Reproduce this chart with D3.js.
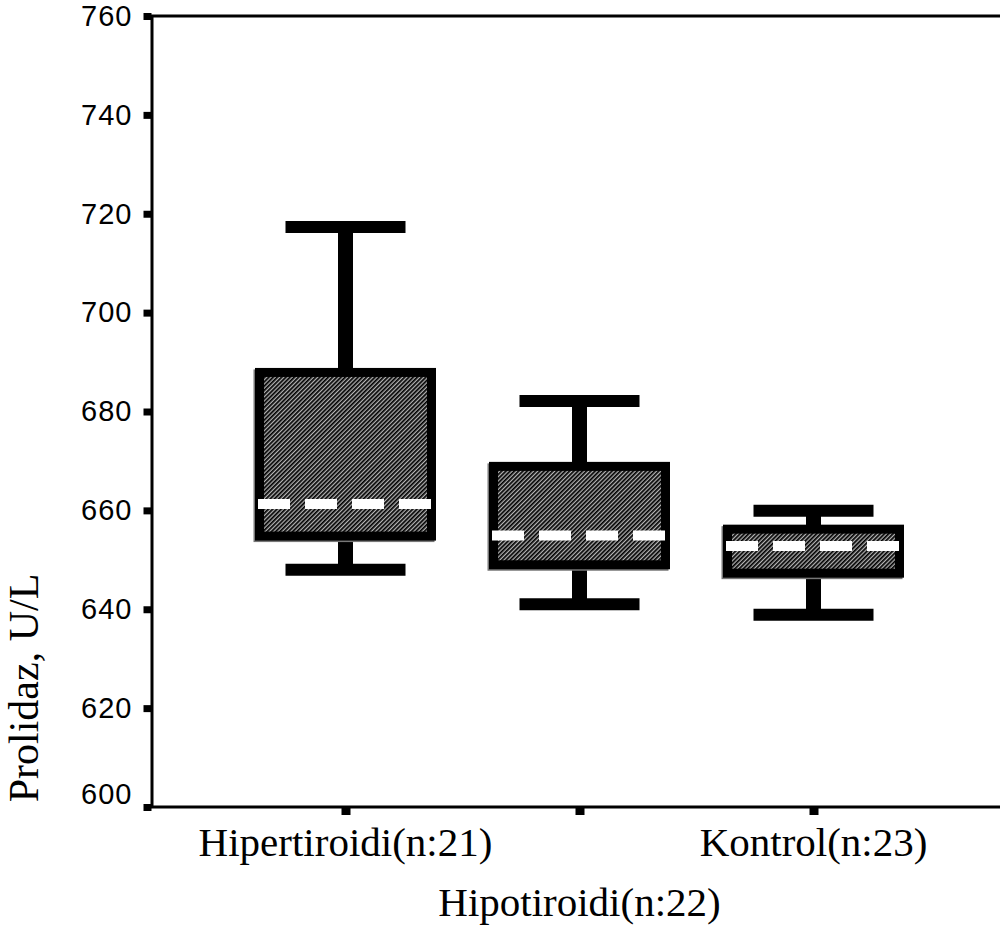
<!DOCTYPE html>
<html>
<head>
<meta charset="utf-8">
<script src="https://cdn.jsdelivr.net/npm/d3@7"></script>
<style>
  body { margin: 0; background: #fff; }
  svg { display: block; }
</style>
</head>
<body>
<div id="chart"></div>
<script>
// values (U/L)
var categories = ["Hipertiroidi(n:21)", "Hipotiroidi(n:22)", "Kontrol(n:23)"];
var whiskerLow = [648, 641, 638.9];
var q1 = [654.8, 649, 647.3];
var median = [661.3, 654.9, 652.8];
var q3 = [687.9, 668.9, 656.2];
var whiskerHigh = [717.3, 682.1, 659.9];
var yTicks = [600, 620, 640, 660, 680, 700, 720, 740, 760];

var width = 1000, height = 928;

var svg = d3.select("#chart").append("svg")
    .attr("width", width)
    .attr("height", height);

var y = d3.scaleLinear().domain([600, 760]).range([807, 16]);
var x = d3.scalePoint().domain(categories).range([345.5, 813.5]);

// hatched fill for the boxes
var pat = svg.append("defs").append("pattern")
    .attr("id", "hatch")
    .attr("patternUnits", "userSpaceOnUse")
    .attr("width", 3)
    .attr("height", 3)
    .attr("patternTransform", "rotate(45)");
pat.append("rect").attr("width", 3).attr("height", 3).attr("fill", "#b4b4b4");
pat.append("rect").attr("width", 1.7).attr("height", 3).attr("fill", "#000");

var boxW = 172, capW = 120;

var data = categories.map(function(c, i) {
    return { cat: c, lo: whiskerLow[i], q1: q1[i], med: median[i], q3: q3[i], hi: whiskerHigh[i] };
});

var g = svg.selectAll(".box").data(data).enter().append("g").attr("class", "box");

// whisker stems
g.append("line")
    .attr("x1", function(d) { return x(d.cat); })
    .attr("x2", function(d) { return x(d.cat); })
    .attr("y1", function(d) { return y(d.hi); })
    .attr("y2", function(d) { return y(d.lo); })
    .attr("stroke", "#000")
    .attr("stroke-width", 15);

// caps
g.selectAll(".cap").data(function(d) { return [{ c: d.cat, v: d.hi }, { c: d.cat, v: d.lo }]; })
    .enter().append("line")
    .attr("class", "cap")
    .attr("x1", function(d) { return x(d.c) - capW / 2; })
    .attr("x2", function(d) { return x(d.c) + capW / 2; })
    .attr("y1", function(d) { return y(d.v); })
    .attr("y2", function(d) { return y(d.v); })
    .attr("stroke", "#000")
    .attr("stroke-width", 12);

// faint shadow behind box
g.append("rect")
    .attr("x", function(d) { return x(d.cat) - boxW / 2 - 1.5; })
    .attr("y", function(d) { return y(d.q3) + 1.5; })
    .attr("width", boxW)
    .attr("height", function(d) { return y(d.q1) - y(d.q3); })
    .attr("fill", "none")
    .attr("stroke", "#777")
    .attr("stroke-width", 9);

// box
g.append("rect")
    .attr("x", function(d) { return x(d.cat) - boxW / 2; })
    .attr("y", function(d) { return y(d.q3); })
    .attr("width", boxW)
    .attr("height", function(d) { return y(d.q1) - y(d.q3); })
    .attr("fill", "url(#hatch)")
    .attr("stroke", "#000")
    .attr("stroke-width", 9);

// dashed median
g.append("line")
    .attr("x1", function(d) { return x(d.cat) - 87.5; })
    .attr("x2", function(d) { return x(d.cat) + 87.5; })
    .attr("y1", function(d) { return y(d.med); })
    .attr("y2", function(d) { return y(d.med); })
    .attr("stroke", "#fff")
    .attr("stroke-width", 10)
    .attr("stroke-dasharray", "32,15");

// frame lines
svg.append("line")
    .attr("x1", 151).attr("x2", width)
    .attr("y1", y(760)).attr("y2", y(760))
    .attr("stroke", "#000").attr("stroke-width", 3);
svg.append("line")
    .attr("x1", 151).attr("x2", width)
    .attr("y1", y(600)).attr("y2", y(600))
    .attr("stroke", "#000").attr("stroke-width", 3);

// y axis
var yAxis = svg.append("g")
    .attr("transform", "translate(151.5,0)")
    .call(d3.axisLeft(y).tickValues(yTicks).tickSize(8).tickSizeOuter(0).tickPadding(11));
yAxis.select(".domain").attr("stroke-width", 3);
yAxis.selectAll(".tick line").attr("stroke-width", 7);
yAxis.selectAll(".tick text")
    .style("font-family", "'Liberation Sans', Arial, sans-serif")
    .style("font-size", "29px")
    .style("letter-spacing", "1px")
    .attr("fill", "#000");
yAxis.selectAll(".tick text").filter(function(d) { return d === 600; }).attr("dy", "-0.12em");

// x axis ticks
var xAxis = svg.append("g")
    .attr("transform", "translate(0," + (y(600) + 1) + ")")
    .call(d3.axisBottom(x).tickSize(7).tickSizeOuter(0).tickFormat(""));
xAxis.select(".domain").remove();
xAxis.selectAll(".tick line").attr("stroke-width", 9);

// category labels (middle one dropped to a second row)
svg.selectAll(".cat-label").data(categories).enter().append("text")
    .attr("class", "cat-label")
    .attr("x", function(d) { return x(d); })
    .attr("y", function(d, i) { return i === 1 ? 916 : 856; })
    .attr("text-anchor", "middle")
    .style("font-family", "'Liberation Serif', 'Times New Roman', serif")
    .style("font-size", "41px")
    .text(function(d) { return d; });

// y title
svg.append("text")
    .attr("transform", "translate(38," + 688 + ") rotate(-90)")
    .attr("text-anchor", "middle")
    .style("font-family", "'Liberation Serif', 'Times New Roman', serif")
    .style("font-size", "42px")
    .text("Prolidaz, U/L");
</script>
</body>
</html>
